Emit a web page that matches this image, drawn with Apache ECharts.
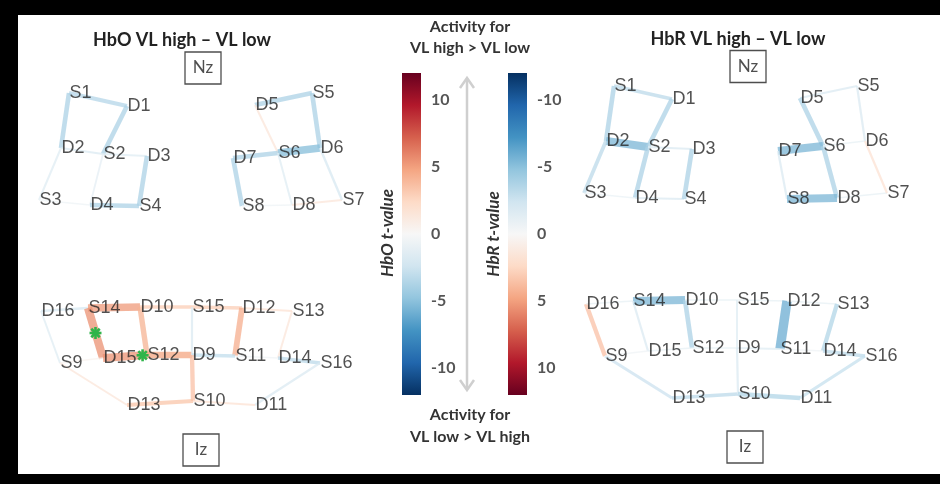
<!DOCTYPE html>
<html><head><meta charset="utf-8">
<script src="https://cdn.jsdelivr.net/npm/echarts@6/dist/echarts.min.js"></script>
<style>html,body{margin:0;padding:0;background:#fff}#c{width:940px;height:484px}</style>
</head><body><div id="c"></div>
<script>
// ---- montage (optode layout, montage units) ----
const optodeNames = ['S1','D1','D2','S2','D3','S3','D4','S4',
  'D5','S5','D7','S6','D6','S8','D8','S7',
  'D16','S14','D10','S15','D12','S13',
  'S9','D15','S12','D9','S11','D14','S16',
  'D13','S10','D11'];
const optodeX = [69,127,61,103,147,39,90,139, 255,312,233,278,320,242,292,342, 41,88,140,192,242,292, 60,103,147,192,235,278,320, 127,193,255];
const optodeY = [93,106,148,154,156,200,205,206, 105,93,158,153,148,206,205,200, 311,308,307,307,308,311, 363,358,355,355,356,358,363, 405,401,405];

// ---- landmarks per panel ----
const landmarkNames = ['Nz','Iz'];
const hboLandmarkX = [203,201], hboLandmarkY = [68,450];
const hbrLandmarkX = [203,200], hbrLandmarkY = [73.5,454];

// ---- channel t-values: [source, detector, t] ----
const hboChannels = [
  ['S1','D1',-3.5],['S1','D2',-3.8],['S2','D1',-3.8],['S2','D2',-1.8],['S2','D3',-1.5],['S2','D4',-1.2],
  ['S3','D2',-1.5],['S3','D4',-0.6],['S4','D3',-3.8],['S4','D4',-3.8],
  ['S5','D5',-3.8],['S5','D6',-3.8],['S6','D5',1.5],['S6','D6',-5.2],['S6','D7',-3.8],['S6','D8',-1.5],
  ['S8','D7',-3.8],['S8','D8',-0.6],['S7','D8',1.5],['S7','D6',-2],
  ['S14','D16',-2],['S14','D10',5.2],['S14','D15',5.5],['S12','D15',5.5],['S12','D10',4.2],['S12','D9',4.8],
  ['S15','D10',3],['S15','D12',3],['S13','D12',1.8],['S13','D14',1.5],['S15','D9',-1.8],['S11','D12',4.4],
  ['S11','D9',-3],['S16','D14',-3.2],['S16','D11',-1.8],['S10','D9',3.6],['S10','D13',3.4],['S10','D11',1.8],
  ['S9','D16',-1.5],['S9','D13',1.5],['S11','D14',-0.5],['S9','D15',0.5]
];
const hboSignificant = ['S14-D15','S12-D15'];
const hbrChannels = [
  ['S1','D2',-3.8],['S1','D1',-3.2],['S2','D2',-5.5],['S2','D1',-3.8],['S2','D4',-3.8],['S3','D2',-3.2],
  ['S2','D3',-1.8],['S4','D4',-1.8],['S4','D3',-3.8],['S3','D4',-0.8],
  ['S5','D5',-1.8],['S5','D6',-1.8],['S6','D5',-3.8],['S6','D7',-5.5],['S6','D8',-3.8],['S6','D6',-1],
  ['S8','D7',-1.8],['S8','D8',-5.5],['S7','D8',-1],['S7','D6',1.8],
  ['S9','D16',3.6],['S14','D16',-1],['S14','D10',-5.5],['S14','D15',-1.8],['S12','D10',-3.8],['S12','D15',-1],
  ['S12','D9',-1],['S15','D10',-1],['S15','D9',-1.5],['S15','D12',-1],['S11','D12',-6],['S13','D12',-1],
  ['S13','D14',-3.6],['S11','D9',-1.5],['S16','D14',-3.2],['S16','D11',-2.8],['S9','D13',-2.6],['S10','D13',-3.2],
  ['S10','D9',-1.8],['S10','D11',-3.6],['S11','D14',-0.5],['S9','D15',-0.5]
];

// ---- colour scale ----
const tMin = -12, tMax = 12;
const colorTicks = [-10,-5,0,5,10];
const rdbu = ['#053061','#2166ac','#4393c3','#92c5de','#d1e5f0','#f7f7f7','#fddbc7','#f4a582','#d6604d','#b2182b','#67001f'];

// ---- build ----
function pos(name){ const i = optodeNames.indexOf(name); return [optodeX[i], optodeY[i]]; }
function chanData(list){ return list.map(c => { const a = pos(c[0]), b = pos(c[1]); return [a[0],a[1],b[0],b[1],c[2]]; }); }
function sigData(list, sig){ return list.filter(c => sig.indexOf(c[0]+'-'+c[1]) >= 0).map(c => { const a = pos(c[1]), b = pos(c[0]); return [a[0],a[1],b[0],b[1], c[0]==='S12'?0.9:0.5]; }); }
const optodeData = optodeNames.map((n,i)=>({name:n, value:[optodeX[i], optodeY[i]]}));
function landmarkData(xs, ys){ return landmarkNames.map((n,i)=>({name:n, value:[xs[i], ys[i]]})); }

function renderChannel(params, api){
  const p1 = api.coord([api.value(0), api.value(1)]);
  const p2 = api.coord([api.value(2), api.value(3)]);
  const t = api.value(4);
  const w = 1.5 + 0.22*t*t;
  return {type:'line', shape:{x1:p1[0],y1:p1[1],x2:p2[0],y2:p2[1]},
    style:{stroke:api.visual('color'), lineWidth:w, lineCap:'butt', opacity:0.75}};
}
function renderStar(params, api){
  const p1 = api.coord([api.value(0), api.value(1)]);
  const p2 = api.coord([api.value(2), api.value(3)]);
  const f = api.value(4);
  const cx = p1[0] + (p2[0]-p1[0])*f, cy = p1[1] + (p2[1]-p1[1])*f;
  const r = 6, ch = [];
  for (let k=0;k<4;k++){ const a = k*Math.PI/4; ch.push({type:'line', shape:{x1:cx-r*Math.cos(a), y1:cy-r*Math.sin(a), x2:cx+r*Math.cos(a), y2:cy+r*Math.sin(a)}, style:{stroke:'#2fb54a', lineWidth:2.6}}); }
  return {type:'group', children:ch};
}
function renderBar(params, api){
  const cs = params.coordSys;
  const stops = rdbu.map((c,i)=>{ const v = tMin + i*(tMax-tMin)/(rdbu.length-1); const y = api.coord([0.5, v])[1]; return {offset:Math.min(1,Math.max(0,(y-cs.y)/cs.height)), color:c}; }).sort((a,b)=>a.offset-b.offset);
  return {type:'rect', shape:{x:cs.x, y:cs.y, width:cs.width, height:cs.height},
    style:{fill:new echarts.graphic.LinearGradient(0,0,0,1,stops)}};
}

const clear = {color:'rgba(0,0,0,0)'};
const labelFont = {fontSize:18, fontFamily:'"Liberation Sans", Arial, sans-serif', color:'#262626'};
const boxLabel = {show:true, position:'inside', formatter:'{b}', fontSize:17, fontFamily:'Lato, sans-serif', color:'#222',
  borderColor:'#222', borderWidth:1.3, width:36, height:32, lineHeight:32, align:'center', verticalAlign:'middle'};
const hiddenAxis = (min,max,inv) => ({type:'value', min:min, max:max, inverse:!!inv, show:false});
const cbAxis = (gi, inv) => ({type:'value', gridIndex:gi, min:tMin, max:tMax, inverse:inv, position:'right',
  axisLine:{show:false}, splitLine:{show:false},
  axisTick:{show:true, length:3, lineStyle:{color:'#c8c8c8', width:2}, customValues:colorTicks},
  axisLabel:{margin:10, customValues:colorTicks, fontSize:16, fontWeight:'bold', fontFamily:'Lato, sans-serif', color:'#555'}});

const option = {
  animation:false,
  backgroundColor:'#fff',
  grid:[
    {left:0, top:0, width:470, height:484},
    {left:545, top:0, width:395, height:484},
    {left:402, top:73, width:19, height:322},
    {left:508, top:73, width:19, height:322}
  ],
  xAxis:[
    Object.assign(hiddenAxis(0,470),{gridIndex:0}),
    Object.assign(hiddenAxis(0,395),{gridIndex:1}),
    Object.assign(hiddenAxis(0,1),{gridIndex:2}),
    Object.assign(hiddenAxis(0,1),{gridIndex:3})
  ],
  yAxis:[
    Object.assign(hiddenAxis(0,484,true),{gridIndex:0}),
    Object.assign(hiddenAxis(7,491,true),{gridIndex:1}),
    cbAxis(2,false),
    cbAxis(3,true)
  ],
  visualMap:[{type:'continuous', show:false, min:tMin, max:tMax, dimension:4, seriesIndex:[0,1], inRange:{color:rdbu}}],
  series:[
    {type:'custom', name:'HbO channels', xAxisIndex:0, yAxisIndex:0, dimensions:['x1','y1','x2','y2','t'], data:chanData(hboChannels), renderItem:renderChannel, z:1, silent:true},
    {type:'custom', name:'HbR channels', xAxisIndex:1, yAxisIndex:1, dimensions:['x1','y1','x2','y2','t'], data:chanData(hbrChannels), renderItem:renderChannel, z:1, silent:true},
    {type:'scatter', xAxisIndex:0, yAxisIndex:0, data:optodeData, symbolSize:1, itemStyle:clear, z:3, silent:true,
      label:Object.assign({show:true, position:'right', distance:0, formatter:'{b}'}, labelFont)},
    {type:'scatter', xAxisIndex:1, yAxisIndex:1, data:optodeData, symbolSize:1, itemStyle:clear, z:3, silent:true,
      label:Object.assign({show:true, position:'right', distance:0, formatter:'{b}'}, labelFont)},
    {type:'custom', xAxisIndex:0, yAxisIndex:0, data:sigData(hboChannels, hboSignificant), renderItem:renderStar, z:4, silent:true},
    {type:'scatter', xAxisIndex:0, yAxisIndex:0, data:landmarkData(hboLandmarkX, hboLandmarkY), symbolSize:1, itemStyle:clear, label:boxLabel, silent:true},
    {type:'scatter', xAxisIndex:1, yAxisIndex:1, data:landmarkData(hbrLandmarkX, hbrLandmarkY), symbolSize:1, itemStyle:clear, label:boxLabel, silent:true},
    {type:'custom', xAxisIndex:2, yAxisIndex:2, data:[[0.5,0]], renderItem:renderBar, silent:true},
    {type:'custom', xAxisIndex:3, yAxisIndex:3, data:[[0.5,0]], renderItem:renderBar, silent:true}
  ],
  graphic:[
    {type:'rect', shape:{x:0,y:0,width:940,height:15}, style:{fill:'#000'}, z:100},
    {type:'rect', shape:{x:0,y:0,width:18,height:484}, style:{fill:'#000'}, z:100},
    {type:'rect', shape:{x:0,y:474,width:940,height:10}, style:{fill:'#000'}, z:100},
    {type:'text', x:182, y:40, style:{text:'HbO VL high – VL low', align:'center', verticalAlign:'middle', font:'bold 18px Lato, sans-serif', fill:'#222'}},
    {type:'text', x:738, y:39, style:{text:'HbR VL high – VL low', align:'center', verticalAlign:'middle', font:'bold 18px Lato, sans-serif', fill:'#222'}},
    {type:'text', x:470, y:27, style:{text:'Activity for', align:'center', verticalAlign:'middle', font:'bold 16px Lato, sans-serif', fill:'#333'}},
    {type:'text', x:470, y:48, style:{text:'VL high > VL low', align:'center', verticalAlign:'middle', font:'bold 16px Lato, sans-serif', fill:'#333'}},
    {type:'text', x:470, y:415, style:{text:'Activity for', align:'center', verticalAlign:'middle', font:'bold 16px Lato, sans-serif', fill:'#333'}},
    {type:'text', x:470, y:437, style:{text:'VL low > VL high', align:'center', verticalAlign:'middle', font:'bold 16px Lato, sans-serif', fill:'#333'}},
    {type:'text', x:388, y:233, rotation:Math.PI/2, style:{text:'HbO t-value', align:'center', verticalAlign:'middle', font:'italic bold 17px Lato, sans-serif', fill:'#333'}},
    {type:'text', x:494, y:234, rotation:Math.PI/2, style:{text:'HbR t-value', align:'center', verticalAlign:'middle', font:'italic bold 17px Lato, sans-serif', fill:'#333'}},
    {type:'line', shape:{x1:467,y1:78,x2:467,y2:390}, style:{stroke:'#cfcfcf', lineWidth:2.5}},
    {type:'polyline', shape:{points:[[460,88],[467,78],[474,88]]}, style:{stroke:'#cfcfcf', lineWidth:2.5, fill:null}},
    {type:'polyline', shape:{points:[[460,380],[467,390],[474,380]]}, style:{stroke:'#cfcfcf', lineWidth:2.5, fill:null}}
  ]
};
const chart = echarts.init(document.getElementById('c'), null, {renderer:'canvas'});
chart.setOption(option);
</script></body></html>
